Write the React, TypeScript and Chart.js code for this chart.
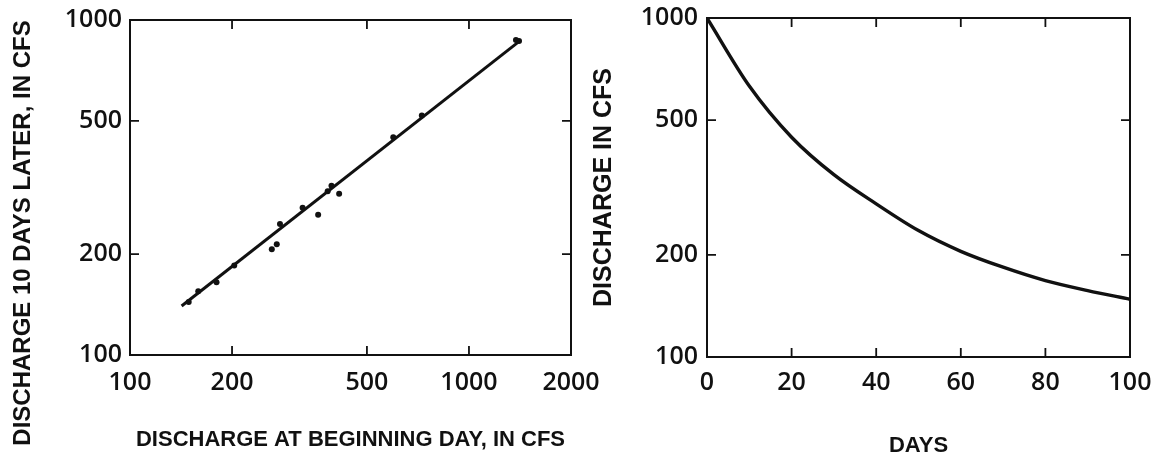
import React, { useEffect, useRef } from "react";
import { Chart, registerables } from "chart.js";

Chart.register(...registerables);

// ---------- Data ----------
// Left panel: discharge at beginning day vs discharge 10 days later (cfs)
const startDischarge = [149, 159, 180, 203, 262, 271, 277, 323, 359, 383, 393, 414, 598, 726, 1376, 1405];
const laterDischarge = [144, 155, 165, 185, 207, 214, 246, 275, 262, 308, 320, 303, 447, 519, 871, 865];
const fitLineX = [142, 1410];
const fitLineY = [140, 865];
const leftXTicks = [100, 200, 500, 1000, 2000];
const leftYTicks = [100, 200, 500, 1000];

// Right panel: recession curve
const days = [0, 10, 20, 30, 40, 50, 60, 70, 80, 90, 100];
const recession = [1000, 630, 445, 345, 283, 236, 205, 184, 168, 157, 148];
const rightXTicks = [0, 20, 40, 60, 80, 100];
const rightYTicks = [100, 200, 500, 1000];

const leftXTitle = "DISCHARGE AT BEGINNING DAY, IN CFS";
const leftYTitle = "DISCHARGE 10 DAYS LATER, IN CFS";
const rightXTitle = "DAYS";
const rightYTitle = "DISCHARGE IN CFS";

const TICK_FAMILY = '"Open Sans", "Liberation Sans", sans-serif';
const TITLE_FAMILY = '"Liberation Sans", Arial, sans-serif';
const INK = "#111";

const frameAndTicks = {
  id: "frameAndTicks",
  afterDatasetsDraw(chart: any, _args: any, opts: any) {
    const { ctx, chartArea } = chart;
    const len = opts.len ?? 9;
    ctx.save();
    ctx.strokeStyle = INK;
    ctx.lineWidth = 2;
    ctx.strokeRect(chartArea.left, chartArea.top, chartArea.right - chartArea.left, chartArea.bottom - chartArea.top);
    ctx.lineWidth = 1.8;
    const xs = chart.scales.x;
    const ys = chart.scales.y;
    ctx.beginPath();
    for (const t of xs.ticks) {
      if (t.value <= xs.min || t.value >= xs.max) continue;
      const px = xs.getPixelForValue(t.value);
      ctx.moveTo(px, chartArea.bottom);
      ctx.lineTo(px, chartArea.bottom - len);
      ctx.moveTo(px, chartArea.top);
      ctx.lineTo(px, chartArea.top + len);
    }
    for (const t of ys.ticks) {
      if (t.value <= ys.min || t.value >= ys.max) continue;
      const py = ys.getPixelForValue(t.value);
      ctx.moveTo(chartArea.left, py);
      ctx.lineTo(chartArea.left + len, py);
      ctx.moveTo(chartArea.right, py);
      ctx.lineTo(chartArea.right - len, py);
    }
    ctx.stroke();
    ctx.restore();
  },
};

const sideTitle = {
  id: "sideTitle",
  afterDraw(chart: any, _args: any, opts: any) {
    if (!opts || !opts.text) return;
    const { ctx } = chart;
    ctx.save();
    ctx.translate(opts.x, opts.y);
    ctx.rotate(-Math.PI / 2);
    ctx.fillStyle = INK;
    ctx.font = `bold ${opts.size}px ${TITLE_FAMILY}`;
    ctx.textAlign = "center";
    ctx.textBaseline = "middle";
    ctx.fillText(opts.text, 0, 0);
    ctx.restore();
  },
};

function fixedTicks(vals: number[]) {
  return (scale: any) => {
    scale.ticks = vals.map((v) => ({ value: v }));
  };
}

const tickFont = { family: TICK_FAMILY, size: 25, weight: 600 as any };
const xTitleFont = { family: TITLE_FAMILY, size: 22, weight: "bold" as any };
const yTitleFont = { family: TITLE_FAMILY, size: 25, weight: "bold" as any };

function fixX(h: number) {
  return (s: any) => {
    s.height = h;
    s.paddingLeft = 0;
    s.paddingRight = 0;
  };
}
function fixY(w: number) {
  return (s: any) => {
    s.width = w;
    s.paddingTop = 0;
    s.paddingBottom = 0;
  };
}

export default function App() {
  const leftRef = useRef<HTMLCanvasElement>(null);
  const rightRef = useRef<HTMLCanvasElement>(null);

  useEffect(() => {
    const left = new Chart(leftRef.current!, {
      type: "scatter",
      data: {
        datasets: [
          {
            type: "line",
            data: fitLineX.map((x, i) => ({ x, y: fitLineY[i] })),
            borderColor: INK,
            borderWidth: 3,
            pointRadius: 0,
            fill: false,
          } as any,
          {
            data: startDischarge.map((x, i) => ({ x, y: laterDischarge[i] })),
            backgroundColor: INK,
            borderColor: INK,
            pointRadius: 3,
            borderWidth: 0,
          },
        ],
      },
      options: {
        responsive: false,
        animation: false,
        layout: { padding: { top: 20, right: 49, left: 0, bottom: 0 } },
        plugins: {
          legend: { display: false },
          tooltip: { enabled: false },
          frameAndTicks: { len: 9 },
          sideTitle: { text: leftYTitle, x: 23, y: 233, size: 24 },
        } as any,
        scales: {
          x: {
            type: "logarithmic",
            min: 100,
            max: 2000,
            afterBuildTicks: fixedTicks(leftXTicks),
            afterFit: fixX(459 - 355),
            grid: { display: false, drawTicks: false },
            border: { display: false },
            ticks: { color: INK, font: tickFont, padding: 13, autoSkip: false, maxRotation: 0, callback: (v: any) => String(v) },
            title: { display: true, text: leftXTitle, color: INK, font: xTitleFont, padding: { top: 0, bottom: 6 } },
          },
          y: {
            type: "logarithmic",
            min: 100,
            max: 1000,
            afterBuildTicks: fixedTicks(leftYTicks),
            afterFit: fixY(130),
            grid: { display: false, drawTicks: false },
            border: { display: false },
            ticks: { color: INK, font: tickFont, padding: 8, autoSkip: false, callback: (v: any) => String(v) },
          },
        },
      },
      plugins: [frameAndTicks, sideTitle],
    });

    const right = new Chart(rightRef.current!, {
      type: "line",
      data: {
        datasets: [
          {
            data: days.map((x, i) => ({ x, y: recession[i] })),
            borderColor: INK,
            borderWidth: 3.4,
            pointRadius: 0,
            cubicInterpolationMode: "monotone",
            fill: false,
          },
        ],
      },
      options: {
        responsive: false,
        animation: false,
        layout: { padding: { top: 18, right: 34, left: 0, bottom: 0 } },
        plugins: {
          legend: { display: false },
          tooltip: { enabled: false },
          frameAndTicks: { len: 9 },
        } as any,
        scales: {
          x: {
            type: "linear",
            min: 0,
            max: 100,
            afterBuildTicks: fixedTicks(rightXTicks),
            afterFit: fixX(459 - 357),
            grid: { display: false, drawTicks: false },
            border: { display: false },
            ticks: { color: INK, font: tickFont, padding: 11, autoSkip: false, maxRotation: 0 },
            title: { display: true, text: rightXTitle, color: INK, font: xTitleFont, padding: { top: 0, bottom: 0 } },
          },
          y: {
            type: "logarithmic",
            min: 100,
            max: 1000,
            afterBuildTicks: fixedTicks(rightYTicks),
            afterFit: fixY(127),
            grid: { display: false, drawTicks: false },
            border: { display: false },
            ticks: { color: INK, font: tickFont, padding: 9, autoSkip: false, callback: (v: any) => String(v) },
            title: { display: true, text: rightYTitle, color: INK, font: yTitleFont, padding: { top: 9, bottom: 0 } },
          },
        },
      },
      plugins: [frameAndTicks],
    });

    return () => {
      left.destroy();
      right.destroy();
    };
  }, []);

  return (
    <div style={{ position: "fixed", left: 0, top: 0, width: 1164, height: 459, background: "#fff", overflow: "hidden" }}>
      <canvas ref={leftRef} width={620} height={459} style={{ position: "absolute", left: 0, top: 0, width: 620, height: 459 }} />
      <canvas ref={rightRef} width={584} height={459} style={{ position: "absolute", left: 580, top: 0, width: 584, height: 459 }} />
    </div>
  );
}
